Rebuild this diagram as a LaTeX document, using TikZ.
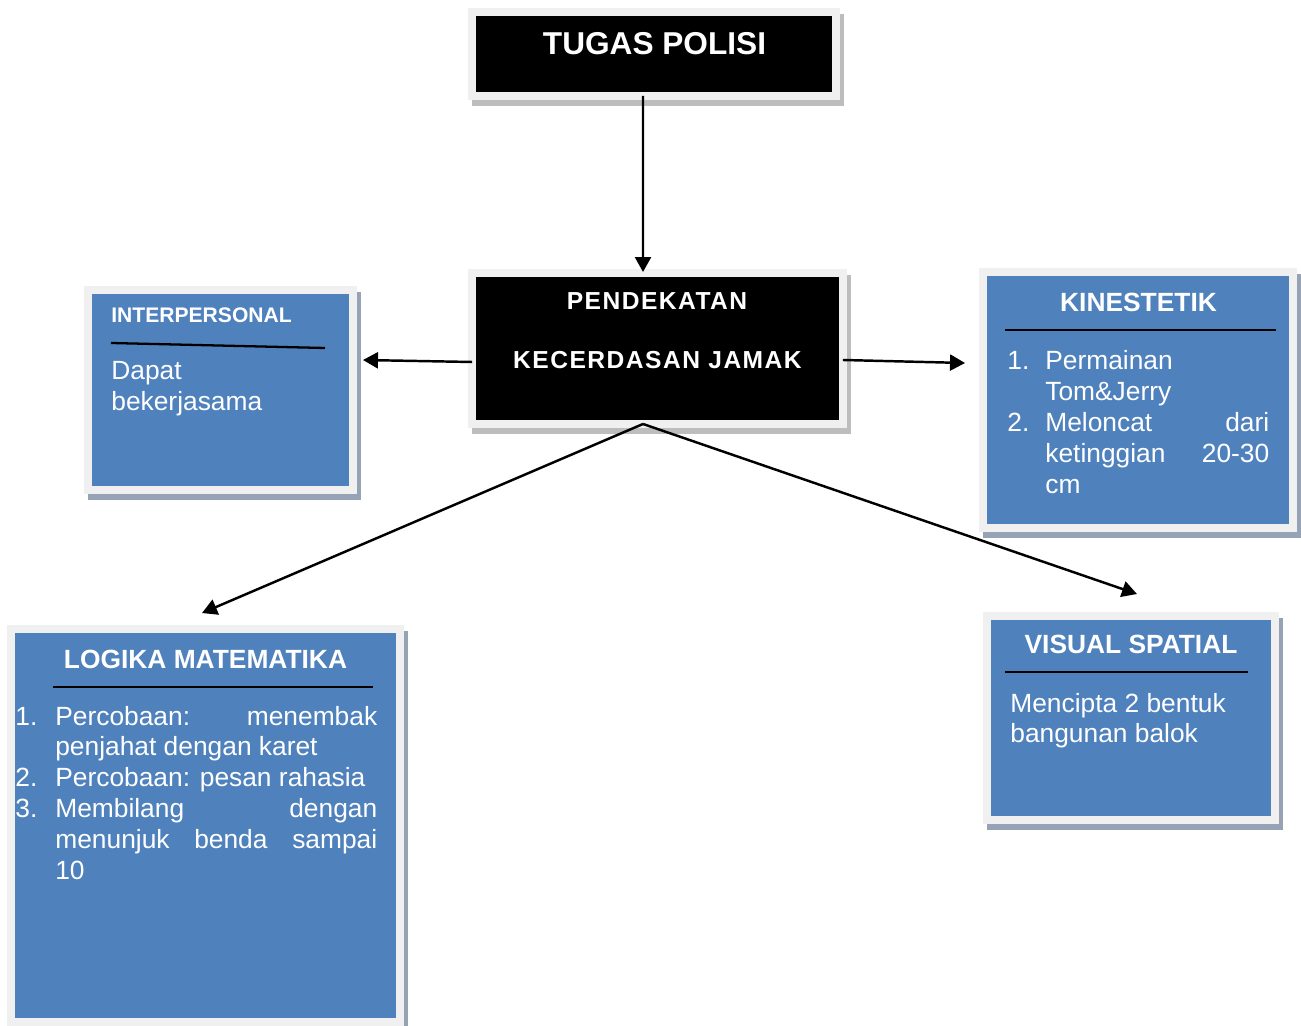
\documentclass[tikz,border=0pt]{standalone}
\usepackage{fontspec}
\setmainfont{Liberation Sans}
\newfontfamily\spacedfont[LetterSpace=6]{Liberation Sans}
\usepackage{tikz}
\usetikzlibrary{positioning, arrows.meta, shadows}

\definecolor{boxblue}{HTML}{4F81BD}
\definecolor{framegrey}{HTML}{F0F0F0}
\definecolor{blueshadow}{HTML}{96A3B5}
\definecolor{greyshadow}{HTML}{BDBDBD}

\begin{document}
\begin{tikzpicture}
    [
        x=0.02cm, y=-0.02cm,
        black_box/.style={rectangle, draw=framegrey, fill=black, line width=0.16cm, inner sep=0, outer sep=0, drop shadow={shadow xshift=0.08cm, shadow yshift=-0.12cm, fill=greyshadow, draw=greyshadow, line width=0.16cm, opacity=1}},
        blue_box/.style={rectangle, draw=framegrey, fill=boxblue, line width=0.16cm, inner sep=0, outer sep=0, drop shadow={shadow xshift=0.08cm, shadow yshift=-0.12cm, fill=blueshadow, draw=blueshadow, line width=0.16cm, opacity=1}},
        black_title/.style={text=white, inner sep=0, anchor=base, font=\spacedfont\fontsize{14}{17}\selectfont\bfseries},
        blue_title/.style={text=white, inner sep=0, anchor=base, font=\fontsize{15}{18}\selectfont\bfseries},
        body_text/.style={text=white, inner sep=0, anchor=base west, font=\fontsize{15}{17.6}\selectfont},
        rule_line/.style={draw=black, line width=1.3pt},
        arrow_line/.style={draw=black, line width=1.4pt, -{Triangle[length=0.3cm, width=0.32cm]}},
    ]
        \useasboundingbox (0,0) rectangle (1301,1026);
        % boxes
        \node[black_box, minimum width=7.28cm, minimum height=1.68cm] (polisi) at (654,54) {};
        \node[black_box, minimum width=7.42cm, minimum height=3.02cm] (pendekatan) at (657.5,348.5) {};
        \node[blue_box, minimum width=5.3cm, minimum height=4.0cm] (interpersonal) at (220.5,390) {};
        \node[blue_box, minimum width=6.2cm, minimum height=5.12cm] (kinestetik) at (1138,400) {};
        \node[blue_box, minimum width=7.78cm, minimum height=7.86cm] (logika) at (205.5,825.5) {};
        \node[blue_box, minimum width=5.76cm, minimum height=4.08cm] (visual) at (1131,718) {};
        % titles
        \node[black_title, font=\fontsize{18}{21}\selectfont\bfseries] (polisi_title) at (654.5,55) {TUGAS POLISI};
        \node[black_title] (pendekatan_title) at (657,310) {PENDEKATAN};
        \node[black_title] (kecerdasan_title) at (657.5,369) {KECERDASAN JAMAK};
        \node[blue_title, anchor=base west, font=\fontsize{12}{14}\selectfont\bfseries] (interpersonal_title) at (111,323) {INTERPERSONAL};
        \node[blue_title] (kinestetik_title) at (1138.5,312) {KINESTETIK};
        \node[blue_title] (logika_title) at (205.5,668) {LOGIKA MATEMATIKA};
        \node[blue_title] (visual_title) at (1131,653) {VISUAL SPATIAL};
        % rules under the titles
        \draw[rule_line] (111,343) -- (325,348);
        \draw[rule_line] (1005,330) -- (1276,330);
        \draw[rule_line] (53,687) -- (373,687);
        \draw[rule_line] (1005,672) -- (1248,672);
        % contents
        \node[body_text] (interpersonal_text) at (111,380) {\begin{tabular}[t]{@{}l@{}}
            Dapat\\
            bekerjasama
        \end{tabular}};
        \node[body_text] (kinestetik_list) at (1007,370) {\begin{tabular}[t]{@{}p{0.76cm}@{}p{4.48cm}@{}}
            1. & Permainan\\
               & Tom\&Jerry\\
            2. & \makebox[4.48cm][s]{Meloncat dari}\\
               & \makebox[4.48cm][s]{ketinggian 20-30}\\
               & cm
        \end{tabular}};
        \node[body_text] (logika_list) at (15,725) {\begin{tabular}[t]{@{}p{0.8cm}@{}p{6.44cm}@{}}
            1. & \makebox[6.44cm][s]{Percobaan: menembak}\\
               & penjahat dengan karet\\
            2. & Percobaan: pesan rahasia\\
            3. & \makebox[6.44cm][s]{Membilang dengan}\\
               & \makebox[6.44cm][s]{menunjuk benda sampai}\\
               & 10
        \end{tabular}};
        \node[body_text] (visual_text) at (1010,712) {\begin{tabular}[t]{@{}l@{}}
            Mencipta 2 bentuk\\
            bangunan balok
        \end{tabular}};
        % arrows
        \draw[arrow_line] ([xshift=-0.22cm]polisi.south) to ([xshift=-0.29cm, yshift=0.02cm]pendekatan.north);
        \draw[arrow_line] ([yshift=-0.27cm]pendekatan.west) to ([xshift=0.2cm, yshift=0.6cm]interpersonal.east);
        \draw[arrow_line] ([yshift=-0.23cm]pendekatan.east) to ([xshift=-0.36cm, yshift=0.74cm]kinestetik.west);
        \draw[arrow_line] ([xshift=-0.29cm]pendekatan.south) to ([xshift=-0.07cm, yshift=0.32cm]logika.north);
        \draw[arrow_line] ([xshift=-0.29cm]pendekatan.south) to ([xshift=0.12cm, yshift=0.44cm]visual.north);
    \end{tikzpicture}
\end{document}
